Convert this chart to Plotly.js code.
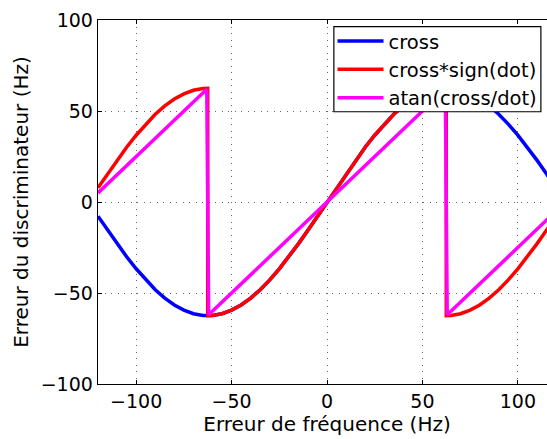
<!DOCTYPE html>
<html>
<head>
<meta charset="utf-8">
<script src="https://cdn.plot.ly/plotly-3.0.1.min.js"></script>
<style>
html,body{margin:0;padding:0;overflow:hidden;background:#fff;}
#chart{width:560px;height:439px;}
</style>
</head>
<body>
<div id="chart"></div>
<script>
// Frequency error (Hz) sample positions
var freqCross = [-120,-115,-110,-105,-100,-95,-90,-85,-80,-75,-70,-65,-62.5,-60,-55,-50,-45,-40,-35,-30,-25,-20,-15,-10,-5,0,5,10,15,20,25,30,35,40,45,50,55,60,62.5,65,70,75,80,85,90,95,100,105,110,115,120];
var crossVals = [-7.8,-15.5,-23.0,-30.1,-36.7,-42.8,-48.2,-52.8,-56.6,-59.4,-61.4,-62.4,-62.5,-62.4,-61.4,-59.4,-56.6,-52.8,-48.2,-42.8,-36.7,-30.1,-23.0,-15.5,-7.8,0,7.8,15.5,23.0,30.1,36.7,42.8,48.2,52.8,56.6,59.4,61.4,62.4,62.5,62.4,61.4,59.4,56.6,52.8,48.2,42.8,36.7,30.1,23.0,15.5,7.8];

var freqSign = [-120,-115,-110,-105,-100,-95,-90,-85,-80,-75,-70,-65,-62.5,-62.5,-60,-55,-50,-45,-40,-35,-30,-25,-20,-15,-10,-5,0,5,10,15,20,25,30,35,40,45,50,55,60,62.5,62.5,65,70,75,80,85,90,95,100,105,110,115,120];
var crossSignVals = [7.8,15.5,23.0,30.1,36.7,42.8,48.2,52.8,56.6,59.4,61.4,62.4,62.5,-62.5,-62.4,-61.4,-59.4,-56.6,-52.8,-48.2,-42.8,-36.7,-30.1,-23.0,-15.5,-7.8,0,7.8,15.5,23.0,30.1,36.7,42.8,48.2,52.8,56.6,59.4,61.4,62.4,62.5,-62.5,-62.4,-61.4,-59.4,-56.6,-52.8,-48.2,-42.8,-36.7,-30.1,-23.0,-15.5,-7.8];

var freqAtan = [-120,-63,-62,0,62,63,120];
var atanVals = [5,62,-62,0,62,-62,-5];

var seriesNames = ['cross','cross*sign(dot)','atan(cross/dot)'];
var xTicks = [-100,-50,0,50,100];
var yTicks = [-100,-50,0,50,100];

var font = {family:'DejaVu Sans, Arial, sans-serif', size:20, color:'#000'};
var lw = 3.5;

var traces = [
  {x:freqCross, y:crossVals, name:seriesNames[0], mode:'lines', line:{color:'#0000ff', width:lw}},
  {x:freqSign, y:crossSignVals, name:seriesNames[1], mode:'lines', line:{color:'#ff0000', width:lw}},
  {x:freqAtan, y:atanVals, name:seriesNames[2], mode:'lines', line:{color:'#ff00ff', width:lw}}
];

var axisCommon = {
  showline:true, linecolor:'#000', linewidth:1.3, mirror:'ticks',
  ticks:'inside', ticklen:4, tickwidth:1, tickcolor:'#000',
  showgrid:true, gridcolor:'rgba(0,0,0,0.6)', griddash:'1px,5.5px', gridwidth:1,
  zeroline:false, tickfont:{family:font.family, size:19, color:'#000'}
};

var layout = {
  width:560, height:439,
  margin:{l:98, r:4, t:20, b:55},
  paper_bgcolor:'#fff', plot_bgcolor:'#fff',
  font:font,
  showlegend:true,
  legend:{x:0.512, xanchor:'left', y:0.995, yanchor:'top', borderwidth:0, bgcolor:'rgba(0,0,0,0)', font:{family:font.family, size:19.5, color:'#000'}, tracegroupgap:0, itemwidth:46},
  shapes:[{type:'rect', xref:'paper', yref:'paper', x0:0.515, x1:0.967, y0:0.748, y1:0.982, line:{color:'#000', width:1.2}, fillcolor:'#fff', layer:'above'}],
  xaxis:Object.assign({}, axisCommon, {range:[-120,120], tickvals:xTicks, title:{text:'Erreur de fréquence (Hz)', font:font, standoff:2}}),
  yaxis:Object.assign({}, axisCommon, {range:[-100,100], tickvals:yTicks, title:{text:'Erreur du discriminateur (Hz)', font:font, standoff:6}})
};

Plotly.newPlot('chart', traces, layout, {displayModeBar:false, staticPlot:true});
</script>
</body>
</html>
